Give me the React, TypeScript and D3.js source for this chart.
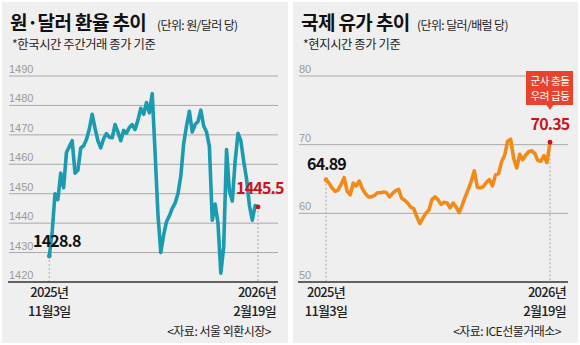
import React from 'react';
import * as d3 from 'd3';

// 원·달러 환율 (2025-11-03 ~ 2026-02-19, 주간거래 종가)
const usdkrw = [
  1428.8, 1437, 1450, 1448, 1457, 1452, 1464, 1466, 1468, 1457,
  1458, 1465.5, 1466.3, 1468.4, 1472, 1477, 1472.2, 1468, 1465.6, 1468.7,
  1470.4, 1469.2, 1469, 1473.5, 1471, 1468, 1471.5, 1470.6, 1472.5, 1473.5,
  1471.8, 1475, 1479, 1477, 1481, 1477.5, 1484, 1464, 1443, 1430,
  1436, 1440.5, 1442.5, 1445, 1446.8, 1450, 1456, 1467, 1473, 1478,
  1471, 1473.5, 1474.5, 1478.4, 1473, 1471, 1466, 1441, 1446.5, 1440,
  1423, 1432, 1465, 1451, 1447.5, 1461, 1470.5, 1468, 1461, 1455,
  1446, 1441, 1446, 1445.5,
];

// 국제 유가 (달러/배럴)
const brent = [
  64.89, 64.4, 63.7, 63.2, 63.4, 64.2, 65.2, 63.2, 62.7, 64.4,
  64.0, 64.7, 63.6, 62.9, 62.4, 62.4, 62.6, 63.0, 63.0, 63.1,
  63.0, 62.4, 62.9, 63.3, 63.5, 62.2, 61.9, 61.5, 60.9, 60.7,
  59.5, 58.5, 59.3, 60.0, 60.5, 62.0, 62.4, 62.0, 61.3, 61.6,
  61.5, 60.8, 61.5, 60.9, 60.1, 61.2, 62.4, 63.5, 64.7, 66.2,
  63.8, 63.7, 63.9, 64.5, 64.9, 64.0, 65.6, 65.8, 67.5, 68.4,
  70.5, 70.8, 68.0, 66.6, 68.6, 67.8, 68.5, 69.0, 69.1, 68.7,
  67.7, 67.6, 68.4, 67.4, 70.35,
];

const krwTicks = [1420, 1430, 1440, 1450, 1460, 1470, 1480, 1490];
const oilTicks = [50, 60, 70, 80];
const startLabels = ['2025년', '11월3일'];
const endLabels = ['2026년', '2월19일'];
const krwFirstLabel = '1428.8';
const krwLastLabel = '1445.5';
const oilFirstLabel = '64.89';
const oilLastLabel = '70.35';
const calloutLines = ['군사 충돌', '우려 급등'];

const FONT = "'Noto Sans CJK KR', 'Noto Sans', sans-serif";
const TEAL = '#1b9ab0';
const ORANGE = '#f28a18';
const RED = '#c9151e';

type PanelProps = {
  x0: number;
  width: number;
  title: string;
  unit: string;
  unitX: number;
  sub: string;
  source: string;
  data: number[];
  ticks: number[];
  domain: [number, number];
  xRange: [number, number];
  gridRange: [number, number];
  color: string;
  firstLabel: string;
  lastLabel: string;
  firstLabelPos: [number, number, string];
  lastLabelPos: [number, number, string];
  callout?: string[];
};

function Panel(p: PanelProps) {
  const y = d3.scaleLinear().domain(p.domain).range([282, 76]);
  const x = d3.scaleLinear().domain([0, p.data.length - 1]).range(p.xRange);
  const line = d3
    .line<number>()
    .x((_, i) => x(i))
    .y((d) => y(d))
    .curve(d3.curveLinear);
  const last = p.data.length - 1;
  const fx = x(0);
  const fy = y(p.data[0]);
  const lx = x(last);
  const ly = y(p.data[last]);
  const [g0, g1] = p.gridRange;
  return (
    <g>
      <rect x={p.x0} y={2} width={p.width} height={341} fill="#efefef" />
      <text x={p.x0 + 8} y={30} fontFamily={FONT} fontWeight={700} fontSize={19} fill="#111" letterSpacing={-0.6}>
        {p.title}
      </text>
      <text x={p.unitX} y={30} fontFamily={FONT} fontSize={12} fill="#222" letterSpacing={-0.6}>
        {p.unit}
      </text>
      <text x={p.x0 + 10} y={49} fontFamily={FONT} fontSize={12.3} fill="#222" letterSpacing={-0.4}>
        {p.sub}
      </text>
      {p.ticks.map((t, i) => (
        <g key={t}>
          {i > 0 && <line x1={g0} x2={g1} y1={y(t)} y2={y(t)} stroke="#a9a9a9" strokeWidth={1} />}
          <text x={g0} y={y(t) - 3} fontFamily="'Liberation Sans Narrow', 'Liberation Sans', sans-serif" fontSize={11} fill="#9a9a9a">
            {t}
          </text>
        </g>
      ))}
      <line x1={fx} x2={fx} y1={fy} y2={282} stroke="#aaa" strokeDasharray="2,2" strokeWidth={1} />
      <line x1={lx} x2={lx} y1={ly} y2={282} stroke="#aaa" strokeDasharray="2,2" strokeWidth={1} />
      <line x1={g0 - 1} x2={g1} y1={282} y2={282} stroke="#333" strokeWidth={1.3} />
      <path d={line(p.data) || ''} fill="none" stroke={p.color} strokeWidth={3.6} strokeLinejoin="round" strokeLinecap="round" />
      <circle cx={fx} cy={fy} r={2.4} fill={p.color} />
      <circle cx={lx} cy={ly} r={2.4} fill={RED} />
      <text x={p.firstLabelPos[0]} y={p.firstLabelPos[1]} textAnchor={p.firstLabelPos[2] as any} fontFamily={FONT} fontWeight={700} fontSize={16} fill="#111" letterSpacing={-0.8}>
        {p.firstLabel}
      </text>
      <text x={p.lastLabelPos[0]} y={p.lastLabelPos[1]} textAnchor={p.lastLabelPos[2] as any} fontFamily={FONT} fontWeight={700} fontSize={16} fill={RED} letterSpacing={-0.8}>
        {p.lastLabel}
      </text>
      {p.callout && (
        <g>
          <rect x={lx - 24} y={71} width={47} height={34} fill="#e8432d" />
          <path d={`M${lx - 3.5},105 L${lx + 3.5},105 L${lx},110 Z`} fill="#e8432d" />
          {p.callout.map((c, i) => (
            <text key={c} x={lx} y={85 + i * 15} textAnchor="middle" fontFamily={FONT} fontSize={10.5} fill="#fff" letterSpacing={-0.4}>
              {c}
            </text>
          ))}
        </g>
      )}
      {startLabels.map((s, i) => (
        <text key={s} x={fx} y={297 + i * 19} textAnchor="middle" fontFamily={FONT} fontWeight={500} fontSize={13} fill="#222" letterSpacing={-0.7}>
          {s}
        </text>
      ))}
      {endLabels.map((s, i) => (
        <text key={s} x={g1 - 2} y={297 + i * 19} textAnchor="end" fontFamily={FONT} fontWeight={500} fontSize={13} fill="#222" letterSpacing={-0.7}>
          {s}
        </text>
      ))}
      <text x={g1 - 7} y={336} textAnchor="end" fontFamily={FONT} fontSize={12} fill="#222" letterSpacing={-0.5}>
        {p.source}
      </text>
    </g>
  );
}

export default function App() {
  return (
    <svg width={580} height={345} style={{ position: 'absolute', left: 0, top: 0, display: 'block' }}>
      <rect x={0} y={0} width={580} height={345} fill="#fff" />
      <Panel
        x0={2}
        width={286}
        title="원·달러 환율 추이"
        unit="(단위: 원/달러 당)"
        unitX={157}
        sub="*한국시간 주간거래 종가 기준"
        source="<자료: 서울 외환시장>"
        data={usdkrw}
        ticks={krwTicks}
        domain={[1420, 1490]}
        xRange={[49.3, 258]}
        gridRange={[9, 278]}
        color={TEAL}
        firstLabel={krwFirstLabel}
        lastLabel={krwLastLabel}
        firstLabelPos={[33, 247, 'start']}
        lastLabelPos={[236, 194, 'start']}
      />
      <Panel
        x0={293}
        width={285}
        title="국제 유가 추이"
        unit="(단위: 달러/배럴 당)"
        unitX={417}
        sub="*현지시간 종가 기준"
        source="<자료: ICE선물거래소>"
        data={brent}
        ticks={oilTicks}
        domain={[50, 80]}
        xRange={[326, 550]}
        gridRange={[299, 568]}
        color={ORANGE}
        firstLabel={oilFirstLabel}
        lastLabel={oilLastLabel}
        firstLabelPos={[307, 170, 'start']}
        lastLabelPos={[550, 130, 'middle']}
        callout={calloutLines}
      />
    </svg>
  );
}
